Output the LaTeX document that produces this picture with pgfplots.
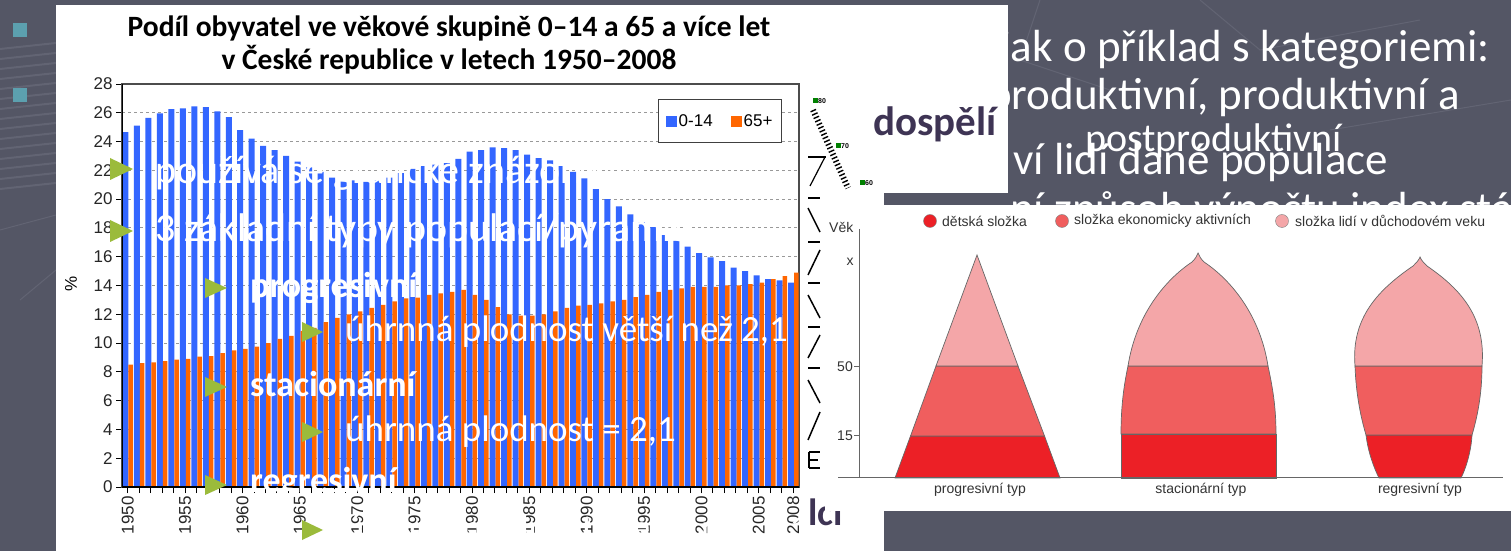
\documentclass[border=0pt]{standalone}
\usepackage{fontspec}
\setmainfont{Carlito}
\newfontfamily\arial{Liberation Sans}
\usepackage{pgfplots}
\usepackage{pgfplotstable}
\pgfplotsset{compat=1.18}
\newcommand\fs[1]{\fontsize{#1}{#1}\selectfont}
\definecolor{bg}{RGB}{84,86,101}
\definecolor{bgline}{RGB}{98,100,115}
\definecolor{tealsq}{RGB}{92,160,175}
\definecolor{barblue}{RGB}{51,102,255}
\definecolor{barorange}{RGB}{255,102,0}
\definecolor{tri}{RGB}{155,187,59}
\definecolor{purp}{RGB}{62,52,84}
\definecolor{pyr1}{RGB}{236,32,38}
\definecolor{pyr2}{RGB}{240,94,94}
\definecolor{pyr3}{RGB}{244,166,168}
\pgfplotstableread{
year kids old
1950 24.65 8.50
1951 25.10 8.60
1952 25.65 8.65
1953 25.95 8.75
1954 26.25 8.85
1955 26.30 8.90
1956 26.45 9.05
1957 26.40 9.10
1958 26.10 9.30
1959 25.70 9.50
1960 24.80 9.60
1961 24.20 9.75
1962 23.70 10.00
1963 23.40 10.30
1964 23.00 10.50
1965 22.60 10.85
1966 22.20 11.05
1967 21.90 11.45
1968 21.50 11.75
1969 21.30 12.00
1970 21.30 12.20
1971 21.20 12.45
1972 21.30 12.65
1973 21.50 12.90
1974 21.80 13.10
1975 22.10 13.15
1976 22.30 13.35
1977 22.40 13.45
1978 22.50 13.55
1979 22.80 13.70
1980 23.30 13.35
1981 23.40 13.00
1982 23.60 12.50
1983 23.55 12.00
1984 23.40 11.90
1985 23.10 11.90
1986 22.85 12.00
1987 22.70 12.20
1988 22.30 12.45
1989 21.90 12.60
1990 21.45 12.65
1991 20.70 12.75
1992 20.00 12.90
1993 19.50 13.00
1994 18.95 13.20
1995 18.40 13.35
1996 18.05 13.55
1997 17.50 13.70
1998 17.10 13.80
1999 16.70 13.90
2000 16.25 13.90
2001 15.95 13.90
2002 15.70 14.00
2003 15.25 14.00
2004 15.00 14.10
2005 14.70 14.20
2006 14.45 14.45
2007 14.35 14.65
2008 14.20 14.90
}\popdata
\begin{document}
\begin{tikzpicture}[x=1pt,y=1pt]
\useasboundingbox (0,0) rectangle (1511,551);
\clip (0,0) rectangle (1511,551);
\fill[bg] (0,0) rectangle (1511,551);
\begin{scope}[shift={(0,551)}, yscale=-1]
  % faint background lines
  \foreach \yy in {45,55,...,185} {\draw[bgline, line width=2pt] (0,\yy+4) -- (56,\yy-2);}
  \draw[bgline, line width=1pt] (0,230) -- (56,215);
  \draw[bgline, line width=1pt] (20,300) -- (56,270);
  \draw[bgline, line width=1pt] (1040,0) -- (1020,60) -- (1110,90);
  \draw[bgline, line width=1pt] (1200,0) -- (1260,50) -- (1420,20);
  \draw[bgline, line width=1pt] (1330,130) -- (1511,100);
  % teal bullets
  \fill[tealsq] (13,23) rectangle (27,37);
  \fill[tealsq] (13,88) rectangle (27,102);
  % slide text partly hidden behind the pictures
  \node[anchor=base east, text=white, font=\fs{45}, inner sep=0] at (1490,62) {Věkové složení lze sledovat jak o příklad s kategoriemi:};
  \node[anchor=base east, text=white, font=\fs{45}, inner sep=0] at (1460,110) {předproduktivní, produktivní a};
  \node[anchor=base west, text=white, font=\fs{40}, inner sep=0] at (1085,152) {postproduktivní};
  \node[anchor=base west, text=white, font=\fs{45}, inner sep=0] at (1013,175) {ví lidí dané populace};
  \node[anchor=base west, text=white, font=\fs{45}, inner sep=0] at (1010,224) {ní způsob výpočtu index stáří};
  % pictures
  \fill[white] (56,5) rectangle (1008,193);
  \fill[white] (56,5) rectangle (884,551);
  % title
  \node[anchor=base, font=\bfseries\fs{29.5}, inner sep=0] at (449,37) {Podíl obyvatel ve věkové skupině 0–14 a 65 a více let};
  \node[anchor=base, font=\bfseries\fs{29.5}, inner sep=0] at (449,70) {v České republice v letech 1950–2008};
\end{scope}
\node[rotate=90, font=\arial\fs{17}] at (71,267) {\%};
\begin{axis}[
  at={(122pt,64pt)}, anchor=south west,
  scale only axis, width=677pt, height=403pt,
  xmin=1949.5, xmax=2008.5, ymin=0, ymax=28,
  ytick={0,2,...,28},
  xtick={1950,1955,...,2005,2008},
  minor xtick={1950,1951,...,2008},
  tick align=outside, tick pos=left,
  major tick length=6pt, minor tick length=6pt,
  tick style={black, line width=0.9pt},
  /pgf/number format/assume math mode=true,
  /pgf/number format/1000 sep={},
  tick label style={font=\arial\fs{17}, text=black!85},
  x tick label style={rotate=90, anchor=east},
  ymajorgrids,
  major grid style={gray!80, line width=0.9pt, dash pattern=on 3pt off 3pt},
  axis line style={draw=gray!60!black, line width=1.3pt},
  legend style={at={(0.975,0.963)}, anchor=north east, legend columns=2,
    draw=gray!50!black, line width=1pt, fill=white,
    font=\arial\fs{17}, inner xsep=7pt, inner ysep=13pt,
    /tikz/every even column/.append style={column sep=16pt}},
]
\addplot[ybar, bar width=6pt, bar shift=-2.25pt, fill=barblue, draw=none,
  legend image code/.code={\fill[barblue] (0pt,-5.5pt) rectangle (11pt,5.5pt);}]
  table[x=year, y=kids] {\popdata};
\addlegendentry{0-14}
\addplot[ybar, bar width=4.5pt, bar shift=3pt, fill=barorange, draw=none,
  legend image code/.code={\fill[barorange] (0pt,-5.5pt) rectangle (11pt,5.5pt);}]
  table[x=year, y=old] {\popdata};
\addlegendentry{65+}
\draw[black, line width=1.6pt] (rel axis cs:0,0) -- (rel axis cs:0,1);
\draw[black, line width=1.6pt] (rel axis cs:0,0) -- (rel axis cs:1,0);
\end{axis}
\begin{scope}[shift={(0,551)}, yscale=-1]
  % fragment of another picture
  \draw[line width=6pt, dash pattern=on 1.4pt off 2.3pt] (813,110) -- (848,188);
  \fill[green!50!black] (813,98) rectangle (818,103);
  \fill[green!50!black] (836,143) rectangle (841,148);
  \fill[green!50!black] (860,180) rectangle (865,185);
  \node[font=\arial\bfseries\fs{7}, anchor=west, inner sep=0] at (818,101) {80};
  \node[font=\arial\bfseries\fs{7}, anchor=west, inner sep=0] at (841,146) {70};
  \node[font=\arial\bfseries\fs{7}, anchor=west, inner sep=0] at (865,183) {60};
  \draw[line width=1.5pt] (808,157) -- (826,157);
  \draw[line width=1.2pt] (825,157) -- (810,186);
  \foreach \yy in {198,242,283,327,368} {\draw[line width=2pt] (808,\yy) -- (820,\yy);}
  \draw[line width=1.5pt] (808,208) -- (820,232);
  \draw[line width=1.5pt] (808,275) -- (820,250);
  \draw[line width=1.5pt] (808,295) -- (820,318);
  \draw[line width=1.5pt] (808,358) -- (820,335);
  \draw[line width=1.5pt] (808,380) -- (820,403);
  \draw[line width=1.5pt] (808,440) -- (820,412);
  \draw[line width=1.8pt] (809,452) -- (820,452) (809,452) -- (809,468) (809,460) -- (818,460) (809,468) -- (820,468);
  \node[anchor=base west, font=\bfseries\fs{41}, text=purp, inner sep=0] at (873,136) {dospělí};
  \node[anchor=base west, font=\bfseries\fs{38}, text=purp, inner sep=0] at (808,525) {lci};
  % age structure picture
  \fill[white] (825,205) rectangle (1511,511);
  \begin{scope}[draw=black!60, line width=0.7pt]
  \filldraw[fill=pyr1] (895,478) -- (910.5,436) -- (1044.5,436) -- (1060,478) -- cycle;
  \filldraw[fill=pyr2] (910.5,436) -- (936,366) -- (1018,366) -- (1044.5,436) -- cycle;
  \filldraw[fill=pyr3] (936,366) -- (977,255) -- (1018,366) -- cycle;
  \filldraw[fill=pyr1] (1121,478) -- (1121,434) -- (1276,434) -- (1276,478) -- cycle;
  \filldraw[fill=pyr2] (1121,434) .. controls (1121,405) and (1124,385) .. (1128,366) -- (1268,366) .. controls (1272,385) and (1276,405) .. (1276,434) -- cycle;
  \filldraw[fill=pyr3] (1128,366) .. controls (1136,315) and (1165,280) .. (1192,262) .. controls (1195,259) and (1197,256) .. (1198,253) .. controls (1199,256) and (1201,259) .. (1204,262) .. controls (1231,280) and (1260,315) .. (1268,366) -- cycle;
  \filldraw[fill=pyr1] (1366,435) .. controls (1368,452) and (1374,468) .. (1379,478) -- (1461,478) .. controls (1466,468) and (1471,452) .. (1472,435) -- cycle;
  \filldraw[fill=pyr2] (1355,366) .. controls (1356,395) and (1361,418) .. (1366,435) -- (1472,435) .. controls (1477,418) and (1482,395) .. (1482,366) -- cycle;
  \filldraw[fill=pyr3] (1355,366) .. controls (1351,318) and (1378,290) .. (1413,266) .. controls (1416,263) and (1419,260) .. (1420,257) .. controls (1421,260) and (1424,263) .. (1427,266) .. controls (1462,290) and (1486,318) .. (1482,366) -- cycle;
  \end{scope}
  \draw[black!60, line width=1pt] (859,229) -- (859,478);
  \draw[black!60, line width=1pt] (838,478) -- (1503,478);
  \draw[black!60, line width=1pt] (854,367) -- (859,367) (854,436) -- (859,436);
  \node[anchor=east, font=\arial\fs{14}, text=black!80, inner sep=1pt] at (854,367) {50};
  \node[anchor=east, font=\arial\fs{14}, text=black!80, inner sep=1pt] at (854,436) {15};
  \node[font=\arial\fs{14}, text=black!80, inner sep=0] at (850,262) {x};
  \node[anchor=base west, font=\arial\fs{14}, text=black!80, inner sep=0] at (829,233) {Věk};
  \filldraw[fill=pyr1, draw=black!50] (930,221) circle (6.5);
  \filldraw[fill=pyr2, draw=black!50] (1062,221) circle (6.5);
  \filldraw[fill=pyr3, draw=black!50] (1282,221) circle (6.5);
  \node[anchor=west, font=\arial\fs{14}, text=black!80, inner sep=0] at (942,221) {dětská složka};
  \node[anchor=west, font=\arial\fs{14}, text=black!80, inner sep=0] at (1074,221) {složka ekonomicky aktivních};
  \node[anchor=west, font=\arial\fs{14}, text=black!80, inner sep=0] at (1295,221) {složka lidí v důchodovém veku};
  \node[anchor=base, font=\arial\fs{14}, text=black!80, inner sep=0] at (980,494) {progresivní typ};
  \node[anchor=base, font=\arial\fs{14}, text=black!80, inner sep=0] at (1201,494) {stacionární typ};
  \node[anchor=base, font=\arial\fs{14}, text=black!80, inner sep=0] at (1420,494) {regresivní typ};
  % overlay slide text
  \fill[tri] (110,158) -- (133,169) -- (110,180) -- cycle;
  \fill[tri] (110,220) -- (133,231) -- (110,242) -- cycle;
  \fill[tri] (205,278) -- (227,288) -- (205,298) -- cycle;
  \fill[tri] (302,322) -- (323,332) -- (302,342) -- cycle;
  \fill[tri] (205,377) -- (227,387) -- (205,397) -- cycle;
  \fill[tri] (302,422) -- (323,432) -- (302,442) -- cycle;
  \fill[tri] (205,475) -- (227,485) -- (205,495) -- cycle;
  \fill[tri] (302,520) -- (323,530) -- (302,540) -- cycle;
  \node[anchor=base west, text=white, font=\fs{40}, inner sep=0] at (155,184) {používá se grafické znázornění};
  \node[anchor=base west, text=white, font=\fs{40}, inner sep=0] at (155,242) {3 základní typy populací/pyramid};
  \node[anchor=base west, text=white, font=\bfseries\fs{36}, inner sep=0] at (250,298) {progresivní};
  \node[anchor=base west, text=white, font=\fs{37}, inner sep=0] at (345,342) {úhrnná plodnost větší než 2,1};
  \node[anchor=base west, text=white, font=\bfseries\fs{36}, inner sep=0] at (250,397) {stacionární};
  \node[anchor=base west, text=white, font=\fs{37}, inner sep=0] at (345,442) {úhrnná plodnost = 2,1};
  \node[anchor=base west, text=white, font=\bfseries\fs{36}, inner sep=0] at (250,493) {regresivní};
  \node[anchor=base west, text=white, font=\fs{37}, inner sep=0] at (345,540) {úhrnná plodnost menší než 2,1};
\end{scope}
\end{tikzpicture}
\end{document}
